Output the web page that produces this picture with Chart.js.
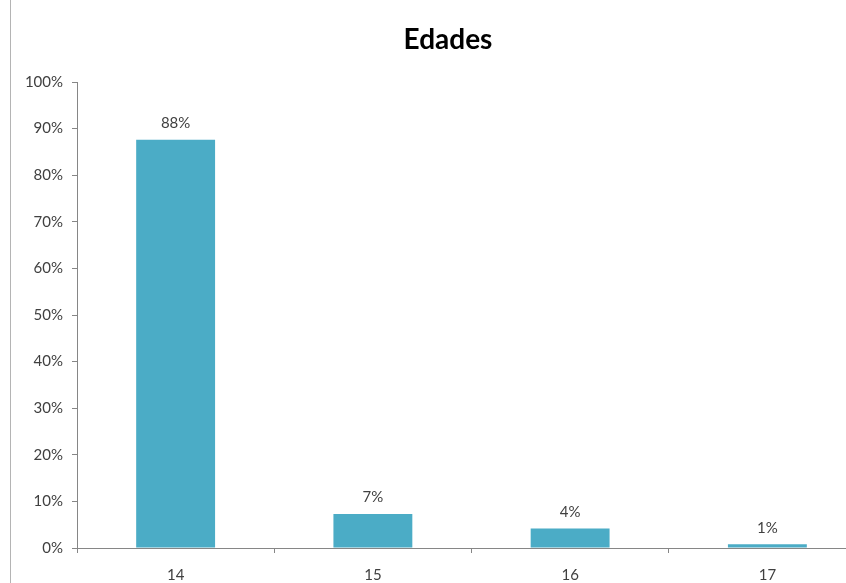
<!DOCTYPE html>
<html>
<head>
<meta charset="utf-8">
<script src="https://cdn.jsdelivr.net/npm/chart.js@4/dist/chart.umd.min.js"></script>
<style>
  html, body { margin: 0; padding: 0; background: #fff; overflow: hidden; }
  #wrap { position: relative; width: 866px; height: 583px; }
  #frame { position: absolute; left: 10px; top: 0; width: 1px; height: 583px; background: #b4b4b4; }
  #title {
    position: absolute; left: 10px; top: 22px; width: 876px;
    text-align: center; font: bold 28px/33px Lato, "Open Sans", sans-serif; color: #000;
  }
</style>
</head>
<body>
<div id="wrap">
  <canvas id="edadesChart"></canvas>
  <div id="frame"></div>
  <div id="title">Edades</div>
</div>
<script>
// Ages and share of answers (bars, labels rounded)
const categories = ['14', '15', '16', '17'];
const shares = [87.6, 7.3, 4.2, 0.8];
const shareLabels = ['88%', '7%', '4%', '1%'];

const FONT = 'Lato, "Open Sans", sans-serif';
const AXIS_GREY = '#868686';

// Draw the percentage over every bar
const barLabels = {
    id: 'barLabels',
    afterDatasetsDraw(chart) {
        const ctx = chart.ctx;
        const meta = chart.getDatasetMeta(0);
        ctx.save();
        ctx.font = '15px ' + FONT;
        ctx.fillStyle = '#404040';
        ctx.textAlign = 'center';
        ctx.textBaseline = 'bottom';
        meta.data.forEach((bar, i) => {
            ctx.fillText(shareLabels[i], bar.x, bar.y - 9);
        });
        ctx.restore();
    }
};

new Chart(document.getElementById('edadesChart'), {
    type: 'bar',
    data: {
        labels: categories,
        datasets: [{
            data: shares,
            backgroundColor: '#4BACC6',
            borderWidth: 0,
            barPercentage: 0.4,
            categoryPercentage: 1
        }]
    },
    options: {
        responsive: true,
        maintainAspectRatio: false,
        animation: false,
        layout: { padding: { left: 12, right: 0, top: 82, bottom: 0 } },
        plugins: {
            legend: { display: false },
            tooltip: { enabled: false },
            title: { display: false }
        },
        scales: {
            x: {
                grid: {
                    display: true,
                    drawOnChartArea: false,
                    offset: true,
                    tickLength: 5,
                    color: AXIS_GREY
                },
                border: { color: AXIS_GREY },
                ticks: {
                    color: '#404040',
                    font: { family: FONT, size: 15 },
                    padding: 13
                },
                afterFit(scale) { scale.height = 35; }
            },
            y: {
                min: 0,
                max: 100,
                grid: {
                    display: true,
                    drawOnChartArea: false,
                    tickLength: 5,
                    color: AXIS_GREY
                },
                border: { color: AXIS_GREY },
                ticks: {
                    stepSize: 10,
                    color: '#404040',
                    font: { family: FONT, size: 15 },
                    padding: 9,
                    callback: v => v + '%'
                },
                afterFit(scale) { scale.width = 65; }
            }
        }
    },
    plugins: [barLabels]
});
</script>
</body>
</html>
